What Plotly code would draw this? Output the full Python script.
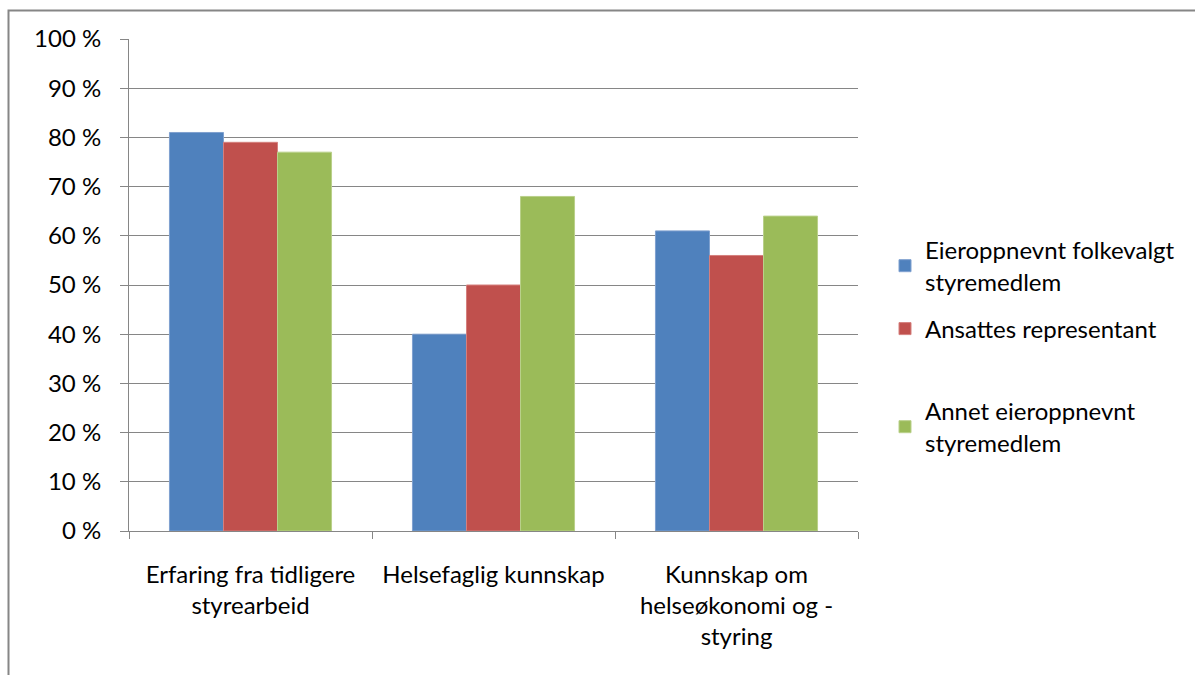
import plotly.graph_objects as go

categories = ["Erfaring fra tidligere<br>styrearbeid", "Helsefaglig kunnskap",
              "Kunnskap om<br>helseøkonomi og -<br>styring"]
series_names = ["Eieroppnevnt folkevalgt<br>styremedlem", "Ansattes representant",
                "Annet eieroppnevnt<br>styremedlem"]
folkevalgt = [81, 40, 61]
ansattes = [79, 50, 56]
annet = [77, 68, 64]
colors = ["#4F81BD", "#C0504D", "#9BBB59"]
edge = ["#7FA0CF", "#D5807E", "#B9D08A"]
y_ticks = [0, 10, 20, 30, 40, 50, 60, 70, 80, 90, 100]
y_tick_text = [f"{v} %" for v in y_ticks]

FONT = "Lato"
FS = 24
L, R, T, B = 129, 858, 39, 531
W, H = 1195, 675

def py(pix):
    return (B - pix) / (B - T)

def px(pix):
    return (pix - L) / (R - L)

legend_keys = ["legend", "legend2", "legend3"]
legend_centers = [266, 329, 427]

fig = go.Figure()
for name, vals, c, e, lk in zip(series_names, [folkevalgt, ansattes, annet], colors, edge, legend_keys):
    fig.add_trace(go.Bar(x=categories, y=vals, name=name, legend=lk,
                         marker=dict(color=c, line=dict(color=e, width=1))))

layout_legends = {}
for lk, cy in zip(legend_keys, legend_centers):
    layout_legends[lk] = dict(x=px(885), y=py(cy), xanchor="left", yanchor="middle",
                              font=dict(family=FONT, size=FS, color="#000000"),
                              itemwidth=30, bgcolor="rgba(0,0,0,0)", borderwidth=0)

fig.update_layout(
    width=W, height=H,
    margin=dict(l=L, r=W - R, t=T, b=H - B),
    paper_bgcolor="white", plot_bgcolor="white",
    barmode="group", bargap=0.333, bargroupgap=0,
    font=dict(family=FONT, size=FS, color="#000000"),
    showlegend=True,
    **layout_legends,
)
fig.update_xaxes(type="category", tickson="boundaries", ticks="outside", ticklen=7,
                 tickcolor="#868686", showline=True, linecolor="#868686", linewidth=1,
                 showgrid=False, tickfont=dict(size=FS), ticklabelstandoff=22)
fig.update_yaxes(range=[0, 100], tickvals=y_ticks, ticktext=y_tick_text, ticks="outside", ticklen=8,
                 tickcolor="#868686", showline=True, linecolor="#868686", linewidth=1,
                 showgrid=True, gridcolor="#868686", gridwidth=1, zeroline=False,
                 tickfont=dict(size=FS), ticklabelstandoff=14)

# outer chart border
fig.add_shape(type="rect", xref="paper", yref="paper",
              x0=px(8.5), x1=px(1205), y0=py(690), y1=py(10.5),
              line=dict(color="#868686", width=2), fillcolor="rgba(0,0,0,0)", layer="below")

fig.write_html("out.html")
